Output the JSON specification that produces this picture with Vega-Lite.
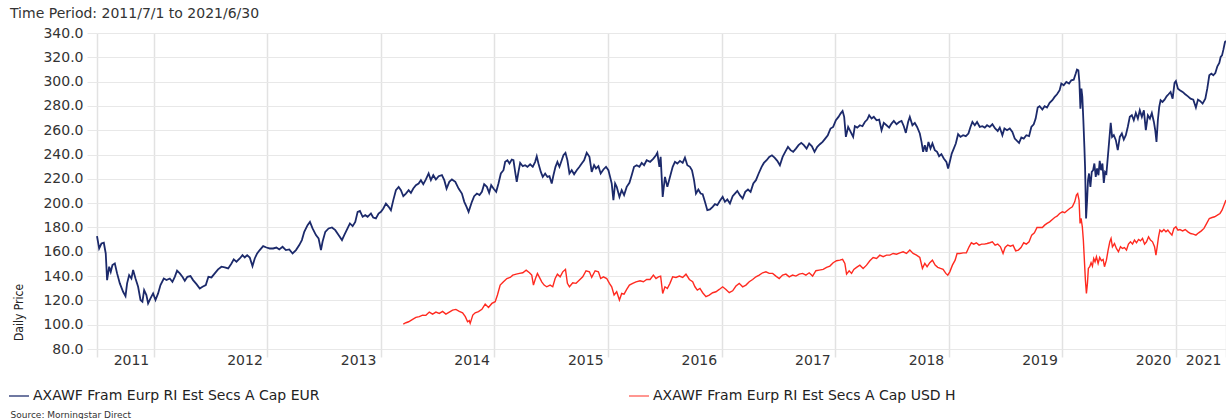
{
"$schema": "https://vega.github.io/schema/vega-lite/v6.json",
"width": 1129, "height": 316,
"autosize": {"type": "none"},
"padding": {"left": 97, "top": 33, "right": 0, "bottom": 70},
"background": "white",
"config": {"view": {"stroke": null}, "font": "DejaVu Sans"},
"title": {"text": "Time Period: 2011/7/1 to 2021/6/30", "anchor": "start", "frame": "group", "dx": -87, "dy": 19, "offset": 13, "fontSize": 14, "fontWeight": "normal", "font": "DejaVu Sans", "color": "#333", "baseline": "alphabetic"},
"data": {"values": [
{"fund":"EUR","t":2011.5,"price":172.9},{"fund":"EUR","t":2011.519,"price":162.7},{"fund":"EUR","t":2011.539,"price":166.8},{"fund":"EUR","t":2011.56,"price":167.4},{"fund":"EUR","t":2011.577,"price":158.6},{"fund":"EUR","t":2011.589,"price":136.7},{"fund":"EUR","t":2011.607,"price":147.7},{"fund":"EUR","t":2011.621,"price":143.5},{"fund":"EUR","t":2011.636,"price":149},{"fund":"EUR","t":2011.657,"price":150.4},{"fund":"EUR","t":2011.677,"price":142.2},{"fund":"EUR","t":2011.701,"price":134},{"fund":"EUR","t":2011.73,"price":127.1},{"fund":"EUR","t":2011.751,"price":123.5},{"fund":"EUR","t":2011.765,"price":134},{"fund":"EUR","t":2011.783,"price":140.8},{"fund":"EUR","t":2011.803,"price":138},{"fund":"EUR","t":2011.818,"price":145},{"fund":"EUR","t":2011.839,"price":138},{"fund":"EUR","t":2011.862,"price":131.2},{"fund":"EUR","t":2011.883,"price":120.3},{"fund":"EUR","t":2011.9,"price":118.9},{"fund":"EUR","t":2011.915,"price":128.5},{"fund":"EUR","t":2011.935,"price":124.4},{"fund":"EUR","t":2011.95,"price":117.5},{"fund":"EUR","t":2011.971,"price":121.6},{"fund":"EUR","t":2011.994,"price":125.7},{"fund":"EUR","t":2012.015,"price":120.3},{"fund":"EUR","t":2012.038,"price":125.7},{"fund":"EUR","t":2012.059,"price":132.6},{"fund":"EUR","t":2012.088,"price":138},{"fund":"EUR","t":2012.112,"price":136.7},{"fund":"EUR","t":2012.141,"price":138},{"fund":"EUR","t":2012.164,"price":135.3},{"fund":"EUR","t":2012.185,"price":139.4},{"fund":"EUR","t":2012.205,"price":144.4},{"fund":"EUR","t":2012.229,"price":142.2},{"fund":"EUR","t":2012.252,"price":139.4},{"fund":"EUR","t":2012.273,"price":136.1},{"fund":"EUR","t":2012.296,"price":139.4},{"fund":"EUR","t":2012.323,"price":140},{"fund":"EUR","t":2012.346,"price":136.7},{"fund":"EUR","t":2012.376,"price":133.4},{"fund":"EUR","t":2012.405,"price":129.8},{"fund":"EUR","t":2012.429,"price":131.2},{"fund":"EUR","t":2012.458,"price":132.6},{"fund":"EUR","t":2012.481,"price":139.4},{"fund":"EUR","t":2012.508,"price":138.9},{"fund":"EUR","t":2012.537,"price":142.2},{"fund":"EUR","t":2012.566,"price":145.5},{"fund":"EUR","t":2012.596,"price":147.7},{"fund":"EUR","t":2012.625,"price":147.2},{"fund":"EUR","t":2012.655,"price":146.3},{"fund":"EUR","t":2012.684,"price":150.4},{"fund":"EUR","t":2012.704,"price":153.7},{"fund":"EUR","t":2012.728,"price":151.8},{"fund":"EUR","t":2012.757,"price":154.5},{"fund":"EUR","t":2012.781,"price":157.2},{"fund":"EUR","t":2012.801,"price":155.3},{"fund":"EUR","t":2012.822,"price":157.2},{"fund":"EUR","t":2012.845,"price":155.3},{"fund":"EUR","t":2012.869,"price":148.2},{"fund":"EUR","t":2012.889,"price":154.5},{"fund":"EUR","t":2012.91,"price":158.6},{"fund":"EUR","t":2012.933,"price":161.4},{"fund":"EUR","t":2012.963,"price":164.6},{"fund":"EUR","t":2012.992,"price":163.5},{"fund":"EUR","t":2013.021,"price":162.7},{"fund":"EUR","t":2013.051,"price":162.7},{"fund":"EUR","t":2013.08,"price":163.5},{"fund":"EUR","t":2013.105,"price":161.9},{"fund":"EUR","t":2013.134,"price":164.1},{"fund":"EUR","t":2013.163,"price":161.4},{"fund":"EUR","t":2013.193,"price":161.9},{"fund":"EUR","t":2013.222,"price":158.6},{"fund":"EUR","t":2013.252,"price":161.4},{"fund":"EUR","t":2013.281,"price":165.5},{"fund":"EUR","t":2013.304,"price":169.6},{"fund":"EUR","t":2013.325,"price":176.4},{"fund":"EUR","t":2013.354,"price":181.9},{"fund":"EUR","t":2013.375,"price":184.6},{"fund":"EUR","t":2013.398,"price":179.2},{"fund":"EUR","t":2013.428,"price":173.7},{"fund":"EUR","t":2013.451,"price":171},{"fund":"EUR","t":2013.472,"price":161.4},{"fund":"EUR","t":2013.486,"price":168.2},{"fund":"EUR","t":2013.51,"price":176.4},{"fund":"EUR","t":2013.539,"price":179.2},{"fund":"EUR","t":2013.569,"price":180},{"fund":"EUR","t":2013.598,"price":177.8},{"fund":"EUR","t":2013.627,"price":173.7},{"fund":"EUR","t":2013.657,"price":169.6},{"fund":"EUR","t":2013.677,"price":173.7},{"fund":"EUR","t":2013.706,"price":179.2},{"fund":"EUR","t":2013.727,"price":183.3},{"fund":"EUR","t":2013.751,"price":181.1},{"fund":"EUR","t":2013.774,"price":184.6},{"fund":"EUR","t":2013.795,"price":192.9},{"fund":"EUR","t":2013.815,"price":193.7},{"fund":"EUR","t":2013.839,"price":188.8},{"fund":"EUR","t":2013.862,"price":190.1},{"fund":"EUR","t":2013.883,"price":188.8},{"fund":"EUR","t":2013.912,"price":191.5},{"fund":"EUR","t":2013.932,"price":188.2},{"fund":"EUR","t":2013.956,"price":187.4},{"fund":"EUR","t":2013.979,"price":191.5},{"fund":"EUR","t":2014.0,"price":192.9},{"fund":"EUR","t":2014.021,"price":195.6},{"fund":"EUR","t":2014.044,"price":199.7},{"fund":"EUR","t":2014.068,"price":197},{"fund":"EUR","t":2014.088,"price":194.2},{"fund":"EUR","t":2014.109,"price":202.5},{"fund":"EUR","t":2014.132,"price":210.7},{"fund":"EUR","t":2014.156,"price":213.4},{"fund":"EUR","t":2014.176,"price":210.7},{"fund":"EUR","t":2014.197,"price":205.7},{"fund":"EUR","t":2014.22,"price":207.9},{"fund":"EUR","t":2014.244,"price":210.7},{"fund":"EUR","t":2014.264,"price":208.5},{"fund":"EUR","t":2014.285,"price":212},{"fund":"EUR","t":2014.308,"price":214.8},{"fund":"EUR","t":2014.332,"price":216.2},{"fund":"EUR","t":2014.352,"price":218.9},{"fund":"EUR","t":2014.373,"price":215.6},{"fund":"EUR","t":2014.396,"price":219.5},{"fund":"EUR","t":2014.42,"price":224.4},{"fund":"EUR","t":2014.44,"price":218.9},{"fund":"EUR","t":2014.461,"price":223},{"fund":"EUR","t":2014.484,"price":219.5},{"fund":"EUR","t":2014.508,"price":222.2},{"fund":"EUR","t":2014.537,"price":223},{"fund":"EUR","t":2014.558,"price":218.9},{"fund":"EUR","t":2014.578,"price":212},{"fund":"EUR","t":2014.602,"price":217.5},{"fund":"EUR","t":2014.625,"price":219.5},{"fund":"EUR","t":2014.655,"price":217.5},{"fund":"EUR","t":2014.684,"price":212},{"fund":"EUR","t":2014.713,"price":207.9},{"fund":"EUR","t":2014.734,"price":201.1},{"fund":"EUR","t":2014.754,"price":197},{"fund":"EUR","t":2014.772,"price":192.9},{"fund":"EUR","t":2014.801,"price":201.1},{"fund":"EUR","t":2014.821,"price":205.7},{"fund":"EUR","t":2014.845,"price":207.9},{"fund":"EUR","t":2014.868,"price":206.6},{"fund":"EUR","t":2014.889,"price":209.3},{"fund":"EUR","t":2014.909,"price":215.6},{"fund":"EUR","t":2014.933,"price":213.4},{"fund":"EUR","t":2014.953,"price":208.5},{"fund":"EUR","t":2014.971,"price":214.8},{"fund":"EUR","t":2014.991,"price":212},{"fund":"EUR","t":2015.015,"price":209.3},{"fund":"EUR","t":2015.035,"price":216.2},{"fund":"EUR","t":2015.056,"price":224.4},{"fund":"EUR","t":2015.079,"price":227.1},{"fund":"EUR","t":2015.094,"price":234},{"fund":"EUR","t":2015.114,"price":235.3},{"fund":"EUR","t":2015.132,"price":232.6},{"fund":"EUR","t":2015.152,"price":235.9},{"fund":"EUR","t":2015.167,"price":235.3},{"fund":"EUR","t":2015.182,"price":225.7},{"fund":"EUR","t":2015.196,"price":217.5},{"fund":"EUR","t":2015.211,"price":225.7},{"fund":"EUR","t":2015.226,"price":233.1},{"fund":"EUR","t":2015.249,"price":230.4},{"fund":"EUR","t":2015.27,"price":231.2},{"fund":"EUR","t":2015.29,"price":229.9},{"fund":"EUR","t":2015.314,"price":232},{"fund":"EUR","t":2015.337,"price":229.9},{"fund":"EUR","t":2015.358,"price":234},{"fund":"EUR","t":2015.372,"price":238.6},{"fund":"EUR","t":2015.387,"price":232.6},{"fund":"EUR","t":2015.408,"price":225.7},{"fund":"EUR","t":2015.425,"price":221.6},{"fund":"EUR","t":2015.446,"price":224.4},{"fund":"EUR","t":2015.466,"price":221.6},{"fund":"EUR","t":2015.484,"price":222.2},{"fund":"EUR","t":2015.504,"price":216.2},{"fund":"EUR","t":2015.519,"price":223},{"fund":"EUR","t":2015.537,"price":229.9},{"fund":"EUR","t":2015.554,"price":234},{"fund":"EUR","t":2015.572,"price":229.9},{"fund":"EUR","t":2015.592,"price":235.3},{"fund":"EUR","t":2015.607,"price":239.4},{"fund":"EUR","t":2015.625,"price":241.4},{"fund":"EUR","t":2015.642,"price":235.3},{"fund":"EUR","t":2015.66,"price":224.4},{"fund":"EUR","t":2015.68,"price":227.1},{"fund":"EUR","t":2015.701,"price":223.8},{"fund":"EUR","t":2015.724,"price":227.1},{"fund":"EUR","t":2015.748,"price":229.9},{"fund":"EUR","t":2015.768,"price":232.6},{"fund":"EUR","t":2015.789,"price":235.3},{"fund":"EUR","t":2015.812,"price":241.4},{"fund":"EUR","t":2015.836,"price":238.1},{"fund":"EUR","t":2015.856,"price":225.7},{"fund":"EUR","t":2015.877,"price":231.2},{"fund":"EUR","t":2015.894,"price":228.5},{"fund":"EUR","t":2015.915,"price":230.4},{"fund":"EUR","t":2015.935,"price":224.4},{"fund":"EUR","t":2015.959,"price":227.7},{"fund":"EUR","t":2015.982,"price":229.9},{"fund":"EUR","t":2016.003,"price":227.1},{"fund":"EUR","t":2016.018,"price":221.6},{"fund":"EUR","t":2016.032,"price":216.2},{"fund":"EUR","t":2016.047,"price":202.5},{"fund":"EUR","t":2016.062,"price":216.2},{"fund":"EUR","t":2016.076,"price":213.4},{"fund":"EUR","t":2016.1,"price":205.2},{"fund":"EUR","t":2016.12,"price":210.7},{"fund":"EUR","t":2016.141,"price":206.6},{"fund":"EUR","t":2016.164,"price":213.4},{"fund":"EUR","t":2016.188,"price":216.7},{"fund":"EUR","t":2016.208,"price":223},{"fund":"EUR","t":2016.229,"price":229.9},{"fund":"EUR","t":2016.252,"price":231.2},{"fund":"EUR","t":2016.276,"price":229.9},{"fund":"EUR","t":2016.296,"price":233.1},{"fund":"EUR","t":2016.317,"price":231.2},{"fund":"EUR","t":2016.34,"price":235.3},{"fund":"EUR","t":2016.37,"price":234},{"fund":"EUR","t":2016.399,"price":236.7},{"fund":"EUR","t":2016.422,"price":239.4},{"fund":"EUR","t":2016.434,"price":241.4},{"fund":"EUR","t":2016.452,"price":229.9},{"fund":"EUR","t":2016.463,"price":238.1},{"fund":"EUR","t":2016.481,"price":205.2},{"fund":"EUR","t":2016.501,"price":221.6},{"fund":"EUR","t":2016.522,"price":213.4},{"fund":"EUR","t":2016.545,"price":221.6},{"fund":"EUR","t":2016.569,"price":229.9},{"fund":"EUR","t":2016.589,"price":234},{"fund":"EUR","t":2016.61,"price":232.6},{"fund":"EUR","t":2016.633,"price":234.8},{"fund":"EUR","t":2016.657,"price":233.1},{"fund":"EUR","t":2016.677,"price":237.5},{"fund":"EUR","t":2016.698,"price":231.2},{"fund":"EUR","t":2016.721,"price":229.9},{"fund":"EUR","t":2016.739,"price":227.1},{"fund":"EUR","t":2016.757,"price":218.9},{"fund":"EUR","t":2016.774,"price":207.9},{"fund":"EUR","t":2016.795,"price":211.2},{"fund":"EUR","t":2016.815,"price":207.9},{"fund":"EUR","t":2016.833,"price":207.4},{"fund":"EUR","t":2016.853,"price":201.1},{"fund":"EUR","t":2016.874,"price":194.2},{"fund":"EUR","t":2016.897,"price":194.8},{"fund":"EUR","t":2016.921,"price":197},{"fund":"EUR","t":2016.941,"price":199.2},{"fund":"EUR","t":2016.962,"price":198.4},{"fund":"EUR","t":2016.985,"price":201.9},{"fund":"EUR","t":2017.009,"price":205.2},{"fund":"EUR","t":2017.029,"price":201.1},{"fund":"EUR","t":2017.05,"price":203},{"fund":"EUR","t":2017.073,"price":199.7},{"fund":"EUR","t":2017.097,"price":205.7},{"fund":"EUR","t":2017.117,"price":207.9},{"fund":"EUR","t":2017.138,"price":210.1},{"fund":"EUR","t":2017.161,"price":206.6},{"fund":"EUR","t":2017.185,"price":203.8},{"fund":"EUR","t":2017.208,"price":209.3},{"fund":"EUR","t":2017.232,"price":211.2},{"fund":"EUR","t":2017.255,"price":209.3},{"fund":"EUR","t":2017.279,"price":216.2},{"fund":"EUR","t":2017.302,"price":218.9},{"fund":"EUR","t":2017.326,"price":224.4},{"fund":"EUR","t":2017.352,"price":229.9},{"fund":"EUR","t":2017.372,"price":233.1},{"fund":"EUR","t":2017.396,"price":235.3},{"fund":"EUR","t":2017.419,"price":238.1},{"fund":"EUR","t":2017.443,"price":239.4},{"fund":"EUR","t":2017.466,"price":237.5},{"fund":"EUR","t":2017.49,"price":234.8},{"fund":"EUR","t":2017.513,"price":231.2},{"fund":"EUR","t":2017.537,"price":238.1},{"fund":"EUR","t":2017.56,"price":242.2},{"fund":"EUR","t":2017.584,"price":246.3},{"fund":"EUR","t":2017.607,"price":243.6},{"fund":"EUR","t":2017.63,"price":242.2},{"fund":"EUR","t":2017.654,"price":244.9},{"fund":"EUR","t":2017.677,"price":247.7},{"fund":"EUR","t":2017.701,"price":249.6},{"fund":"EUR","t":2017.724,"price":247.7},{"fund":"EUR","t":2017.748,"price":244.9},{"fund":"EUR","t":2017.771,"price":249.1},{"fund":"EUR","t":2017.795,"price":246.8},{"fund":"EUR","t":2017.818,"price":242.2},{"fund":"EUR","t":2017.842,"price":246.3},{"fund":"EUR","t":2017.865,"price":248.5},{"fund":"EUR","t":2017.889,"price":250.4},{"fund":"EUR","t":2017.912,"price":253.1},{"fund":"EUR","t":2017.935,"price":255.9},{"fund":"EUR","t":2017.959,"price":261.4},{"fund":"EUR","t":2017.982,"price":262.7},{"fund":"EUR","t":2018.006,"price":268.2},{"fund":"EUR","t":2018.029,"price":271},{"fund":"EUR","t":2018.047,"price":273.7},{"fund":"EUR","t":2018.065,"price":275.9},{"fund":"EUR","t":2018.079,"price":271},{"fund":"EUR","t":2018.094,"price":254.5},{"fund":"EUR","t":2018.114,"price":262.7},{"fund":"EUR","t":2018.158,"price":254.5},{"fund":"EUR","t":2018.173,"price":263.3},{"fund":"EUR","t":2018.194,"price":262.2},{"fund":"EUR","t":2018.217,"price":264.1},{"fund":"EUR","t":2018.24,"price":263.3},{"fund":"EUR","t":2018.261,"price":266.8},{"fund":"EUR","t":2018.282,"price":268.8},{"fund":"EUR","t":2018.299,"price":272.3},{"fund":"EUR","t":2018.32,"price":269.6},{"fund":"EUR","t":2018.34,"price":271},{"fund":"EUR","t":2018.364,"price":268.2},{"fund":"EUR","t":2018.387,"price":268.8},{"fund":"EUR","t":2018.408,"price":260},{"fund":"EUR","t":2018.428,"price":266},{"fund":"EUR","t":2018.452,"price":264.1},{"fund":"EUR","t":2018.475,"price":262.2},{"fund":"EUR","t":2018.496,"price":265.5},{"fund":"EUR","t":2018.516,"price":267.7},{"fund":"EUR","t":2018.54,"price":264.9},{"fund":"EUR","t":2018.563,"price":266.8},{"fund":"EUR","t":2018.584,"price":267.7},{"fund":"EUR","t":2018.604,"price":263.3},{"fund":"EUR","t":2018.622,"price":257.8},{"fund":"EUR","t":2018.642,"price":266.8},{"fund":"EUR","t":2018.657,"price":271},{"fund":"EUR","t":2018.68,"price":264.1},{"fund":"EUR","t":2018.701,"price":266},{"fund":"EUR","t":2018.721,"price":262.7},{"fund":"EUR","t":2018.745,"price":257.3},{"fund":"EUR","t":2018.76,"price":250.4},{"fund":"EUR","t":2018.774,"price":242.2},{"fund":"EUR","t":2018.789,"price":247.7},{"fund":"EUR","t":2018.804,"price":242.2},{"fund":"EUR","t":2018.821,"price":250.4},{"fund":"EUR","t":2018.839,"price":244.9},{"fund":"EUR","t":2018.856,"price":249.1},{"fund":"EUR","t":2018.877,"price":243.6},{"fund":"EUR","t":2018.897,"price":242.2},{"fund":"EUR","t":2018.915,"price":238.6},{"fund":"EUR","t":2018.935,"price":240.3},{"fund":"EUR","t":2018.956,"price":236.7},{"fund":"EUR","t":2018.979,"price":234},{"fund":"EUR","t":2018.994,"price":228.5},{"fund":"EUR","t":2019.009,"price":234},{"fund":"EUR","t":2019.026,"price":240.8},{"fund":"EUR","t":2019.044,"price":244.9},{"fund":"EUR","t":2019.062,"price":249.1},{"fund":"EUR","t":2019.082,"price":256.7},{"fund":"EUR","t":2019.103,"price":254.5},{"fund":"EUR","t":2019.126,"price":255.9},{"fund":"EUR","t":2019.15,"price":255.1},{"fund":"EUR","t":2019.173,"price":257.3},{"fund":"EUR","t":2019.191,"price":262.7},{"fund":"EUR","t":2019.208,"price":266.8},{"fund":"EUR","t":2019.229,"price":264.1},{"fund":"EUR","t":2019.249,"price":266.8},{"fund":"EUR","t":2019.273,"price":262.7},{"fund":"EUR","t":2019.296,"price":263.3},{"fund":"EUR","t":2019.317,"price":262.2},{"fund":"EUR","t":2019.337,"price":264.1},{"fund":"EUR","t":2019.361,"price":262.7},{"fund":"EUR","t":2019.384,"price":264.9},{"fund":"EUR","t":2019.408,"price":261.4},{"fund":"EUR","t":2019.431,"price":259.4},{"fund":"EUR","t":2019.449,"price":262.2},{"fund":"EUR","t":2019.472,"price":255.9},{"fund":"EUR","t":2019.49,"price":261.4},{"fund":"EUR","t":2019.513,"price":260},{"fund":"EUR","t":2019.537,"price":261.4},{"fund":"EUR","t":2019.56,"price":258.6},{"fund":"EUR","t":2019.581,"price":253.1},{"fund":"EUR","t":2019.601,"price":251.2},{"fund":"EUR","t":2019.619,"price":249.6},{"fund":"EUR","t":2019.639,"price":254},{"fund":"EUR","t":2019.66,"price":253.1},{"fund":"EUR","t":2019.683,"price":255.9},{"fund":"EUR","t":2019.707,"price":255.1},{"fund":"EUR","t":2019.727,"price":262.7},{"fund":"EUR","t":2019.748,"price":264.9},{"fund":"EUR","t":2019.765,"price":269.6},{"fund":"EUR","t":2019.783,"price":278.6},{"fund":"EUR","t":2019.8,"price":279.7},{"fund":"EUR","t":2019.824,"price":277},{"fund":"EUR","t":2019.844,"price":279.7},{"fund":"EUR","t":2019.865,"price":278.6},{"fund":"EUR","t":2019.888,"price":282.5},{"fund":"EUR","t":2019.912,"price":284.7},{"fund":"EUR","t":2019.932,"price":287.4},{"fund":"EUR","t":2019.953,"price":289.6},{"fund":"EUR","t":2019.976,"price":292.9},{"fund":"EUR","t":2019.991,"price":298.4},{"fund":"EUR","t":2020.012,"price":297},{"fund":"EUR","t":2020.035,"price":299.7},{"fund":"EUR","t":2020.059,"price":298.4},{"fund":"EUR","t":2020.079,"price":301.1},{"fund":"EUR","t":2020.1,"price":301.6},{"fund":"EUR","t":2020.118,"price":306.6},{"fund":"EUR","t":2020.129,"price":309.9},{"fund":"EUR","t":2020.141,"price":309.3},{"fund":"EUR","t":2020.15,"price":299.7},{"fund":"EUR","t":2020.159,"price":277.8},{"fund":"EUR","t":2020.168,"price":294.2},{"fund":"EUR","t":2020.176,"price":287.4},{"fund":"EUR","t":2020.185,"price":268.2},{"fund":"EUR","t":2020.194,"price":246.3},{"fund":"EUR","t":2020.2,"price":229.9},{"fund":"EUR","t":2020.209,"price":187.4},{"fund":"EUR","t":2020.218,"price":202.5},{"fund":"EUR","t":2020.226,"price":218.9},{"fund":"EUR","t":2020.235,"price":224.4},{"fund":"EUR","t":2020.247,"price":213.4},{"fund":"EUR","t":2020.259,"price":225.7},{"fund":"EUR","t":2020.271,"price":227.1},{"fund":"EUR","t":2020.282,"price":232.6},{"fund":"EUR","t":2020.294,"price":221.6},{"fund":"EUR","t":2020.306,"price":228.5},{"fund":"EUR","t":2020.318,"price":223},{"fund":"EUR","t":2020.329,"price":234.8},{"fund":"EUR","t":2020.341,"price":227.1},{"fund":"EUR","t":2020.353,"price":232.6},{"fund":"EUR","t":2020.365,"price":216.7},{"fund":"EUR","t":2020.376,"price":225.7},{"fund":"EUR","t":2020.388,"price":224.4},{"fund":"EUR","t":2020.403,"price":240.8},{"fund":"EUR","t":2020.418,"price":257.3},{"fund":"EUR","t":2020.426,"price":266},{"fund":"EUR","t":2020.438,"price":254.5},{"fund":"EUR","t":2020.453,"price":255.9},{"fund":"EUR","t":2020.471,"price":251.8},{"fund":"EUR","t":2020.488,"price":243.6},{"fund":"EUR","t":2020.506,"price":254.5},{"fund":"EUR","t":2020.524,"price":257.3},{"fund":"EUR","t":2020.541,"price":252.3},{"fund":"EUR","t":2020.559,"price":255.9},{"fund":"EUR","t":2020.576,"price":262.7},{"fund":"EUR","t":2020.594,"price":271},{"fund":"EUR","t":2020.612,"price":272.3},{"fund":"EUR","t":2020.629,"price":268.2},{"fund":"EUR","t":2020.647,"price":274.2},{"fund":"EUR","t":2020.665,"price":269.6},{"fund":"EUR","t":2020.682,"price":276.4},{"fund":"EUR","t":2020.7,"price":271},{"fund":"EUR","t":2020.718,"price":276.4},{"fund":"EUR","t":2020.735,"price":260},{"fund":"EUR","t":2020.753,"price":272.3},{"fund":"EUR","t":2020.771,"price":269.6},{"fund":"EUR","t":2020.788,"price":274.2},{"fund":"EUR","t":2020.806,"price":266.8},{"fund":"EUR","t":2020.818,"price":260},{"fund":"EUR","t":2020.829,"price":250.4},{"fund":"EUR","t":2020.841,"price":268.2},{"fund":"EUR","t":2020.853,"price":279.2},{"fund":"EUR","t":2020.865,"price":284.7},{"fund":"EUR","t":2020.882,"price":283.3},{"fund":"EUR","t":2020.9,"price":285.2},{"fund":"EUR","t":2020.918,"price":287.9},{"fund":"EUR","t":2020.935,"price":289.6},{"fund":"EUR","t":2020.953,"price":291.5},{"fund":"EUR","t":2020.971,"price":286},{"fund":"EUR","t":2020.988,"price":298.9},{"fund":"EUR","t":2021.0,"price":300.5},{"fund":"EUR","t":2021.018,"price":294.2},{"fund":"EUR","t":2021.035,"price":292.9},{"fund":"EUR","t":2021.059,"price":291.5},{"fund":"EUR","t":2021.082,"price":289.6},{"fund":"EUR","t":2021.106,"price":287.9},{"fund":"EUR","t":2021.129,"price":286},{"fund":"EUR","t":2021.153,"price":285.2},{"fund":"EUR","t":2021.176,"price":278.6},{"fund":"EUR","t":2021.194,"price":285.2},{"fund":"EUR","t":2021.212,"price":284.1},{"fund":"EUR","t":2021.235,"price":281.9},{"fund":"EUR","t":2021.259,"price":286},{"fund":"EUR","t":2021.276,"price":294.2},{"fund":"EUR","t":2021.294,"price":305.2},{"fund":"EUR","t":2021.312,"price":306.6},{"fund":"EUR","t":2021.329,"price":305.2},{"fund":"EUR","t":2021.347,"price":307.1},{"fund":"EUR","t":2021.365,"price":312.6},{"fund":"EUR","t":2021.382,"price":315.3},{"fund":"EUR","t":2021.394,"price":320.3},{"fund":"EUR","t":2021.406,"price":321.6},{"fund":"EUR","t":2021.418,"price":326.3},{"fund":"EUR","t":2021.432,"price":332.6},{"fund":"EUR","t":2021.441,"price":333.4},
{"fund":"USD H","t":2014.197,"price":100.5},{"fund":"USD H","t":2014.22,"price":101.6},{"fund":"USD H","t":2014.244,"price":102.4},{"fund":"USD H","t":2014.279,"price":104.4},{"fund":"USD H","t":2014.308,"price":106},{"fund":"USD H","t":2014.338,"price":106.6},{"fund":"USD H","t":2014.367,"price":107.9},{"fund":"USD H","t":2014.396,"price":107.7},{"fund":"USD H","t":2014.426,"price":110.4},{"fund":"USD H","t":2014.455,"price":108.7},{"fund":"USD H","t":2014.484,"price":110.4},{"fund":"USD H","t":2014.514,"price":109.3},{"fund":"USD H","t":2014.543,"price":110.9},{"fund":"USD H","t":2014.572,"price":108.7},{"fund":"USD H","t":2014.602,"price":110.4},{"fund":"USD H","t":2014.631,"price":112},{"fund":"USD H","t":2014.66,"price":112.6},{"fund":"USD H","t":2014.69,"price":110.9},{"fund":"USD H","t":2014.719,"price":109.8},{"fund":"USD H","t":2014.743,"price":106.6},{"fund":"USD H","t":2014.763,"price":102.4},{"fund":"USD H","t":2014.778,"price":103.3},{"fund":"USD H","t":2014.786,"price":101.1},{"fund":"USD H","t":2014.809,"price":107.9},{"fund":"USD H","t":2014.83,"price":109.8},{"fund":"USD H","t":2014.859,"price":110.7},{"fund":"USD H","t":2014.889,"price":112.6},{"fund":"USD H","t":2014.918,"price":117},{"fund":"USD H","t":2014.947,"price":114.2},{"fund":"USD H","t":2014.977,"price":117.5},{"fund":"USD H","t":2015.006,"price":118.9},{"fund":"USD H","t":2015.026,"price":124.4},{"fund":"USD H","t":2015.05,"price":132.6},{"fund":"USD H","t":2015.079,"price":135.3},{"fund":"USD H","t":2015.109,"price":138},{"fund":"USD H","t":2015.138,"price":138.9},{"fund":"USD H","t":2015.161,"price":140.8},{"fund":"USD H","t":2015.191,"price":141.6},{"fund":"USD H","t":2015.22,"price":142.2},{"fund":"USD H","t":2015.249,"price":142.7},{"fund":"USD H","t":2015.279,"price":144.9},{"fund":"USD H","t":2015.308,"price":142.7},{"fund":"USD H","t":2015.328,"price":140.8},{"fund":"USD H","t":2015.343,"price":132.6},{"fund":"USD H","t":2015.361,"price":138},{"fund":"USD H","t":2015.378,"price":142.2},{"fund":"USD H","t":2015.396,"price":138.9},{"fund":"USD H","t":2015.416,"price":135.3},{"fund":"USD H","t":2015.437,"price":132.6},{"fund":"USD H","t":2015.46,"price":131.2},{"fund":"USD H","t":2015.49,"price":132.6},{"fund":"USD H","t":2015.513,"price":131.2},{"fund":"USD H","t":2015.534,"price":138},{"fund":"USD H","t":2015.554,"price":141.6},{"fund":"USD H","t":2015.578,"price":139.4},{"fund":"USD H","t":2015.601,"price":143.5},{"fund":"USD H","t":2015.625,"price":145.5},{"fund":"USD H","t":2015.642,"price":134},{"fund":"USD H","t":2015.66,"price":131.2},{"fund":"USD H","t":2015.689,"price":134.5},{"fund":"USD H","t":2015.718,"price":134},{"fund":"USD H","t":2015.748,"price":136.7},{"fund":"USD H","t":2015.777,"price":139.4},{"fund":"USD H","t":2015.806,"price":144.4},{"fund":"USD H","t":2015.836,"price":143.5},{"fund":"USD H","t":2015.856,"price":138.9},{"fund":"USD H","t":2015.886,"price":144.4},{"fund":"USD H","t":2015.915,"price":143.5},{"fund":"USD H","t":2015.935,"price":138},{"fund":"USD H","t":2015.959,"price":139.4},{"fund":"USD H","t":2015.988,"price":138},{"fund":"USD H","t":2016.012,"price":134},{"fund":"USD H","t":2016.032,"price":131.2},{"fund":"USD H","t":2016.053,"price":124.4},{"fund":"USD H","t":2016.076,"price":127.1},{"fund":"USD H","t":2016.1,"price":120.3},{"fund":"USD H","t":2016.12,"price":125.7},{"fund":"USD H","t":2016.141,"price":125.2},{"fund":"USD H","t":2016.164,"price":129},{"fund":"USD H","t":2016.188,"price":132.6},{"fund":"USD H","t":2016.217,"price":134},{"fund":"USD H","t":2016.246,"price":135.3},{"fund":"USD H","t":2016.282,"price":136.1},{"fund":"USD H","t":2016.311,"price":135.3},{"fund":"USD H","t":2016.34,"price":137.2},{"fund":"USD H","t":2016.37,"price":137.2},{"fund":"USD H","t":2016.399,"price":140.8},{"fund":"USD H","t":2016.422,"price":138},{"fund":"USD H","t":2016.443,"price":139.4},{"fund":"USD H","t":2016.463,"price":140},{"fund":"USD H","t":2016.481,"price":125.7},{"fund":"USD H","t":2016.501,"price":131.2},{"fund":"USD H","t":2016.522,"price":129.8},{"fund":"USD H","t":2016.545,"price":134},{"fund":"USD H","t":2016.569,"price":139.4},{"fund":"USD H","t":2016.598,"price":138.9},{"fund":"USD H","t":2016.628,"price":140},{"fund":"USD H","t":2016.657,"price":138.9},{"fund":"USD H","t":2016.686,"price":141.6},{"fund":"USD H","t":2016.716,"price":137.2},{"fund":"USD H","t":2016.745,"price":135.3},{"fund":"USD H","t":2016.765,"price":131.2},{"fund":"USD H","t":2016.786,"price":128.5},{"fund":"USD H","t":2016.809,"price":129.8},{"fund":"USD H","t":2016.833,"price":126.3},{"fund":"USD H","t":2016.862,"price":123},{"fund":"USD H","t":2016.891,"price":124.4},{"fund":"USD H","t":2016.921,"price":126.3},{"fund":"USD H","t":2016.95,"price":127.1},{"fund":"USD H","t":2016.979,"price":129},{"fund":"USD H","t":2017.009,"price":131.2},{"fund":"USD H","t":2017.038,"price":129},{"fund":"USD H","t":2017.067,"price":126.3},{"fund":"USD H","t":2017.097,"price":127.9},{"fund":"USD H","t":2017.126,"price":131.8},{"fund":"USD H","t":2017.155,"price":134},{"fund":"USD H","t":2017.185,"price":131.2},{"fund":"USD H","t":2017.214,"price":132.6},{"fund":"USD H","t":2017.243,"price":135.3},{"fund":"USD H","t":2017.273,"price":137.2},{"fund":"USD H","t":2017.302,"price":139.4},{"fund":"USD H","t":2017.331,"price":140.8},{"fund":"USD H","t":2017.361,"price":142.7},{"fund":"USD H","t":2017.39,"price":143.5},{"fund":"USD H","t":2017.419,"price":142.2},{"fund":"USD H","t":2017.449,"price":142.2},{"fund":"USD H","t":2017.478,"price":140},{"fund":"USD H","t":2017.507,"price":138},{"fund":"USD H","t":2017.537,"price":140.8},{"fund":"USD H","t":2017.566,"price":141.6},{"fund":"USD H","t":2017.595,"price":139.4},{"fund":"USD H","t":2017.625,"price":140.8},{"fund":"USD H","t":2017.654,"price":140},{"fund":"USD H","t":2017.683,"price":141.6},{"fund":"USD H","t":2017.713,"price":142.2},{"fund":"USD H","t":2017.742,"price":140.8},{"fund":"USD H","t":2017.771,"price":142.7},{"fund":"USD H","t":2017.801,"price":140},{"fund":"USD H","t":2017.83,"price":144.4},{"fund":"USD H","t":2017.859,"price":144.9},{"fund":"USD H","t":2017.894,"price":145.5},{"fund":"USD H","t":2017.924,"price":147.2},{"fund":"USD H","t":2017.953,"price":148.2},{"fund":"USD H","t":2017.982,"price":151},{"fund":"USD H","t":2018.012,"price":152.6},{"fund":"USD H","t":2018.041,"price":153.1},{"fund":"USD H","t":2018.065,"price":153.7},{"fund":"USD H","t":2018.085,"price":150.4},{"fund":"USD H","t":2018.1,"price":141.6},{"fund":"USD H","t":2018.123,"price":144.4},{"fund":"USD H","t":2018.144,"price":142.2},{"fund":"USD H","t":2018.164,"price":145.5},{"fund":"USD H","t":2018.188,"price":147.2},{"fund":"USD H","t":2018.217,"price":149},{"fund":"USD H","t":2018.246,"price":146.3},{"fund":"USD H","t":2018.276,"price":149},{"fund":"USD H","t":2018.305,"price":152.6},{"fund":"USD H","t":2018.334,"price":155.3},{"fund":"USD H","t":2018.364,"price":154.5},{"fund":"USD H","t":2018.393,"price":157.2},{"fund":"USD H","t":2018.422,"price":155.9},{"fund":"USD H","t":2018.452,"price":157.2},{"fund":"USD H","t":2018.481,"price":157.2},{"fund":"USD H","t":2018.51,"price":158.6},{"fund":"USD H","t":2018.54,"price":158},{"fund":"USD H","t":2018.569,"price":159.1},{"fund":"USD H","t":2018.598,"price":160},{"fund":"USD H","t":2018.628,"price":158.6},{"fund":"USD H","t":2018.657,"price":161.4},{"fund":"USD H","t":2018.686,"price":158.6},{"fund":"USD H","t":2018.716,"price":157.2},{"fund":"USD H","t":2018.745,"price":155.3},{"fund":"USD H","t":2018.768,"price":146.3},{"fund":"USD H","t":2018.789,"price":150.4},{"fund":"USD H","t":2018.809,"price":147.7},{"fund":"USD H","t":2018.833,"price":151},{"fund":"USD H","t":2018.856,"price":153.1},{"fund":"USD H","t":2018.88,"price":149},{"fund":"USD H","t":2018.903,"price":147.2},{"fund":"USD H","t":2018.927,"price":146.3},{"fund":"USD H","t":2018.95,"price":145.5},{"fund":"USD H","t":2018.974,"price":142.2},{"fund":"USD H","t":2018.991,"price":140.8},{"fund":"USD H","t":2019.009,"price":143.5},{"fund":"USD H","t":2019.032,"price":149},{"fund":"USD H","t":2019.056,"price":153.1},{"fund":"USD H","t":2019.073,"price":158.6},{"fund":"USD H","t":2019.097,"price":158.6},{"fund":"USD H","t":2019.126,"price":159.1},{"fund":"USD H","t":2019.155,"price":159.1},{"fund":"USD H","t":2019.179,"price":164.1},{"fund":"USD H","t":2019.199,"price":167.4},{"fund":"USD H","t":2019.22,"price":166.3},{"fund":"USD H","t":2019.243,"price":167.4},{"fund":"USD H","t":2019.267,"price":165.5},{"fund":"USD H","t":2019.29,"price":166.3},{"fund":"USD H","t":2019.314,"price":166.3},{"fund":"USD H","t":2019.337,"price":166.8},{"fund":"USD H","t":2019.361,"price":167.4},{"fund":"USD H","t":2019.384,"price":168.2},{"fund":"USD H","t":2019.408,"price":165.5},{"fund":"USD H","t":2019.431,"price":166.3},{"fund":"USD H","t":2019.455,"price":164.1},{"fund":"USD H","t":2019.478,"price":158.6},{"fund":"USD H","t":2019.496,"price":163.5},{"fund":"USD H","t":2019.519,"price":165.5},{"fund":"USD H","t":2019.543,"price":164.6},{"fund":"USD H","t":2019.566,"price":165.5},{"fund":"USD H","t":2019.589,"price":160.8},{"fund":"USD H","t":2019.613,"price":161.4},{"fund":"USD H","t":2019.636,"price":163.5},{"fund":"USD H","t":2019.66,"price":167.4},{"fund":"USD H","t":2019.683,"price":166.3},{"fund":"USD H","t":2019.707,"price":168.2},{"fund":"USD H","t":2019.73,"price":173.7},{"fund":"USD H","t":2019.754,"price":175.6},{"fund":"USD H","t":2019.777,"price":180},{"fund":"USD H","t":2019.824,"price":180},{"fund":"USD H","t":2019.844,"price":181.9},{"fund":"USD H","t":2019.865,"price":183.3},{"fund":"USD H","t":2019.888,"price":184.6},{"fund":"USD H","t":2019.912,"price":186.6},{"fund":"USD H","t":2019.932,"price":188.2},{"fund":"USD H","t":2019.953,"price":189.3},{"fund":"USD H","t":2019.976,"price":191.5},{"fund":"USD H","t":2020.0,"price":192.9},{"fund":"USD H","t":2020.021,"price":192.1},{"fund":"USD H","t":2020.041,"price":193.7},{"fund":"USD H","t":2020.065,"price":195.6},{"fund":"USD H","t":2020.088,"price":197},{"fund":"USD H","t":2020.109,"price":201.1},{"fund":"USD H","t":2020.124,"price":206.6},{"fund":"USD H","t":2020.135,"price":207.9},{"fund":"USD H","t":2020.147,"price":202.5},{"fund":"USD H","t":2020.156,"price":183.3},{"fund":"USD H","t":2020.165,"price":187.4},{"fund":"USD H","t":2020.176,"price":180.5},{"fund":"USD H","t":2020.185,"price":169.6},{"fund":"USD H","t":2020.194,"price":153.1},{"fund":"USD H","t":2020.203,"price":136.7},{"fund":"USD H","t":2020.212,"price":125.7},{"fund":"USD H","t":2020.221,"price":134},{"fund":"USD H","t":2020.229,"price":146.3},{"fund":"USD H","t":2020.241,"price":147.7},{"fund":"USD H","t":2020.253,"price":151},{"fund":"USD H","t":2020.265,"price":148.2},{"fund":"USD H","t":2020.276,"price":154.5},{"fund":"USD H","t":2020.288,"price":151.8},{"fund":"USD H","t":2020.3,"price":155.9},{"fund":"USD H","t":2020.315,"price":150.4},{"fund":"USD H","t":2020.329,"price":155.3},{"fund":"USD H","t":2020.344,"price":152.6},{"fund":"USD H","t":2020.359,"price":153.7},{"fund":"USD H","t":2020.371,"price":147.7},{"fund":"USD H","t":2020.388,"price":153.1},{"fund":"USD H","t":2020.403,"price":161.4},{"fund":"USD H","t":2020.418,"price":168.2},{"fund":"USD H","t":2020.429,"price":171},{"fund":"USD H","t":2020.441,"price":164.1},{"fund":"USD H","t":2020.459,"price":166.8},{"fund":"USD H","t":2020.476,"price":162.7},{"fund":"USD H","t":2020.494,"price":160},{"fund":"USD H","t":2020.512,"price":164.1},{"fund":"USD H","t":2020.529,"price":162.7},{"fund":"USD H","t":2020.547,"price":163.5},{"fund":"USD H","t":2020.565,"price":161.4},{"fund":"USD H","t":2020.582,"price":166.3},{"fund":"USD H","t":2020.6,"price":168.2},{"fund":"USD H","t":2020.618,"price":166.3},{"fund":"USD H","t":2020.635,"price":169.6},{"fund":"USD H","t":2020.653,"price":167.4},{"fund":"USD H","t":2020.671,"price":170.1},{"fund":"USD H","t":2020.688,"price":169},{"fund":"USD H","t":2020.706,"price":171},{"fund":"USD H","t":2020.724,"price":166.3},{"fund":"USD H","t":2020.741,"price":168.2},{"fund":"USD H","t":2020.759,"price":172.3},{"fund":"USD H","t":2020.776,"price":169.6},{"fund":"USD H","t":2020.794,"price":168.2},{"fund":"USD H","t":2020.812,"price":164.1},{"fund":"USD H","t":2020.824,"price":157.2},{"fund":"USD H","t":2020.835,"price":164.1},{"fund":"USD H","t":2020.847,"price":172.3},{"fund":"USD H","t":2020.859,"price":177.8},{"fund":"USD H","t":2020.876,"price":176.4},{"fund":"USD H","t":2020.894,"price":178.3},{"fund":"USD H","t":2020.912,"price":176.4},{"fund":"USD H","t":2020.929,"price":177.8},{"fund":"USD H","t":2020.947,"price":175.6},{"fund":"USD H","t":2020.965,"price":173.7},{"fund":"USD H","t":2020.982,"price":179.2},{"fund":"USD H","t":2021.0,"price":180.5},{"fund":"USD H","t":2021.018,"price":177.8},{"fund":"USD H","t":2021.035,"price":178.3},{"fund":"USD H","t":2021.059,"price":177.2},{"fund":"USD H","t":2021.082,"price":178.3},{"fund":"USD H","t":2021.106,"price":176.4},{"fund":"USD H","t":2021.129,"price":175},{"fund":"USD H","t":2021.153,"price":174.5},{"fund":"USD H","t":2021.176,"price":173.7},{"fund":"USD H","t":2021.2,"price":175.6},{"fund":"USD H","t":2021.224,"price":177.2},{"fund":"USD H","t":2021.247,"price":179.2},{"fund":"USD H","t":2021.271,"price":183.3},{"fund":"USD H","t":2021.294,"price":187.4},{"fund":"USD H","t":2021.318,"price":188.2},{"fund":"USD H","t":2021.341,"price":188.8},{"fund":"USD H","t":2021.365,"price":190.1},{"fund":"USD H","t":2021.388,"price":191.5},{"fund":"USD H","t":2021.406,"price":194.2},{"fund":"USD H","t":2021.424,"price":198.4},{"fund":"USD H","t":2021.441,"price":202.5}
]},
"mark": {"type": "line"},
"encoding": {
"x": {"field": "t", "type": "quantitative",
 "scale": {"domain": [2011.5, 2021.441], "nice": false, "zero": false},
 "axis": {"values": [2011.5, 2012, 2013, 2014, 2015, 2016, 2017, 2018, 2019, 2020, 2021, 2021.441],
  "labelExpr": "datum.value < 2011.9 ? '' : (datum.value > 2021.2 ? '2021' : format(datum.value - 1, 'd'))",
  "labelAlign": "right", "labelOffset": -5, "labelBaseline": "alphabetic", "labelPadding": 7,
  "labelFontSize": 14, "labelFont": "DejaVu Sans", "labelColor": "#333", "labelOverlap": false, "labelFlush": false, "labelBound": false,
  "grid": true, "gridColor": "#e2e2e2", "gridWidth": 1.5,
  "ticks": true, "tickSize": 8, "tickColor": "#e2e2e2", "tickWidth": 1.5,
  "domain": false,
  "title": "Source: Morningstar Direct", "titleAnchor": "start", "titleAlign": "left", "titleX": -87, "titleY": 68,
  "titleFontSize": 9, "titleFont": "DejaVu Sans", "titleFontWeight": "normal", "titleColor": "#333", "titleBaseline": "alphabetic"}},
"y": {"field": "price", "type": "quantitative",
 "scale": {"domain": [80, 340], "nice": false, "zero": false},
 "axis": {"values": [80, 100, 120, 140, 160, 180, 200, 220, 240, 260, 280, 300, 320, 340], "format": ".1f",
  "labelFontSize": 14, "labelFont": "DejaVu Sans", "labelColor": "#333", "labelPadding": 4,
  "ticks": true, "tickSize": 10, "tickColor": "#e8e8e8", "gridColor": "#e8e8e8", "domain": false,
  "title": "Daily Price", "titleFont": "Liberation Sans Narrow, DejaVu Sans Condensed, Liberation Sans", "titleFontSize": 12, "titleFontWeight": "normal", "titleColor": "#222",
  "titleX": -79, "titleY": 279, "titleAngle": -90, "titleAlign": "center", "titleBaseline": "middle"}},
"strokeWidth": {"field": "fund", "type": "nominal", "scale": {"domain": ["EUR", "USD H"], "range": [1.8, 1.4]}, "legend": null},
"color": {"field": "fund", "type": "nominal",
 "scale": {"domain": ["EUR", "USD H"], "range": ["#1c2a6b", "#ff2a20"]},
 "legend": {"orient": "none", "legendX": -89, "legendY": 352, "direction": "horizontal", "columns": 2, "columnPadding": 306,
  "title": null, "symbolType": "stroke", "symbolSize": 400, "symbolStrokeWidth": 1, "symbolOpacity": 0.7,
  "labelFontSize": 14, "labelFont": "DejaVu Sans", "labelColor": "#222", "labelLimit": 700, "labelOffset": 3, "padding": 0,
  "labelExpr": "'AXAWF Fram Eurp RI Est Secs A Cap ' + datum.label"}}
}
}
